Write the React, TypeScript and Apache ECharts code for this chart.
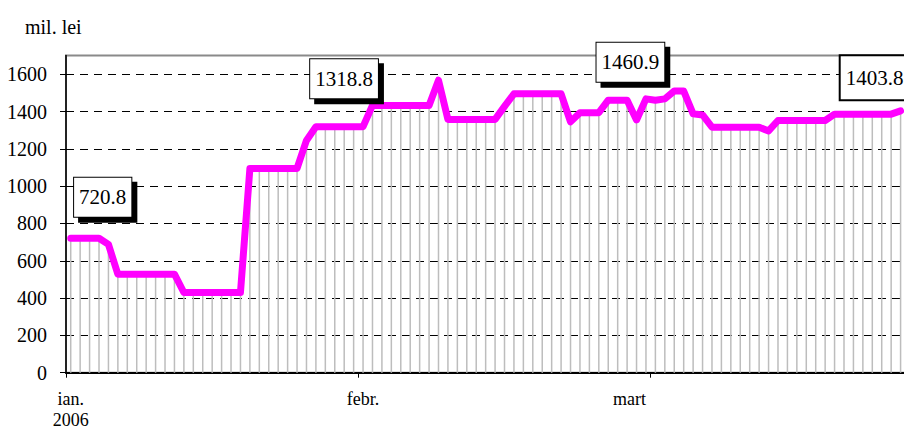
import React, { useEffect, useRef } from 'react';
import * as echarts from 'echarts';

const FONT = 'Liberation Serif';

// one category per plotted observation (31 per month block)
const categories: string[] = Array.from({ length: 89 }, (_, i) => 'p' + (i + 1));
const monthStarts = [0, 31, 62];
const monthLabels = ['ian.\n2006', 'febr.', 'mart'];

const values = [
  720.8, 720.8, 720.8, 720.8, 688,
  528, 528, 528, 528, 528, 528, 528,
  430, 430, 430, 430, 430, 430, 430,
  1095, 1095, 1095, 1095, 1095, 1095,
  1245,
  1318, 1318, 1318, 1318, 1318, 1318.8,
  1433, 1433, 1433, 1433, 1433, 1433, 1433,
  1568,
  1358, 1358, 1358, 1358, 1358, 1358,
  1428,
  1495, 1495, 1495, 1495, 1495, 1495,
  1345,
  1394, 1394, 1394,
  1461, 1461, 1461,
  1355,
  1468, 1460.9, 1468,
  1510, 1510,
  1388, 1382,
  1316, 1316, 1316, 1316, 1316, 1316,
  1296,
  1352, 1352, 1352, 1352, 1352, 1352,
  1386, 1386, 1386, 1386, 1386, 1386, 1386,
  1403.8,
];

const yTicks = [0, 200, 400, 600, 800, 1000, 1200, 1400, 1600];
const labelledPoints = [0, 31, 62, 88];

// label box placement (style only)
const labelOffsets: Record<number, [number, number]> = {
  0: [32, -21],
  31: [-19, -28],
  62: [-25, -18],
  88: [-26, -11],
};

export default function App() {
  const ref = useRef<HTMLDivElement>(null);
  useEffect(() => {
    if (!ref.current) return;
    const chart = echarts.init(ref.current, undefined, { renderer: 'svg' });
    const lineData = values.map((v, i) => {
      if (!labelledPoints.includes(i)) return v;
      const last = i === 88;
      return {
        value: v,
        label: {
          show: true,
          position: 'top',
          distance: 0,
          offset: labelOffsets[i],
          formatter: '{c}',
          fontFamily: FONT,
          fontSize: 21,
          color: '#000',
          backgroundColor: '#fff',
          borderColor: '#000',
          borderWidth: last ? 2 : 1,
          padding: last ? [11, 5, 11, 5] : [9, 5, 9, 5],
          shadowColor: last ? 'transparent' : '#000',
          shadowOffsetX: last ? 0 : 5,
          shadowOffsetY: last ? 0 : 5,
          shadowBlur: 0,
        },
      };
    });
    const option: any = {
      animation: false,
      textStyle: { fontFamily: FONT },
      title: {
        text: 'mil. lei',
        left: 20,
        top: 12,
        textStyle: { fontFamily: FONT, fontSize: 20, fontWeight: 'normal', color: '#000' },
      },
      grid: {
        left: 66,
        top: 55.6,
        width: 839.3,
        height: 317.1,
        outerBoundsMode: 'none',
        containLabel: false,
        show: true,
        borderColor: '#8a8a8a',
        borderWidth: 2,
        backgroundColor: 'transparent',
      },
      xAxis: {
        type: 'category',
        data: categories,
        boundaryGap: true,
        axisLine: { show: true, lineStyle: { color: '#000', width: 2 } },
        axisTick: {
          show: true,
          alignWithLabel: false,
          interval: (i: number) => monthStarts.includes(i),
          length: 5,
          lineStyle: { color: '#000', width: 1 },
        },
        axisLabel: {
          interval: (i: number) => monthStarts.includes(i),
          formatter: (_v: string, i: number) => {
            const k = monthStarts.indexOf(i);
            if (k < 0) return '';
            if (k === 2) return '{m|' + monthLabels[k] + '}';
            return monthLabels[k];
          },
          margin: 16,
          fontFamily: FONT,
          fontSize: 18,
          lineHeight: 21,
          color: '#000',
          rich: {
            m: { fontFamily: FONT, fontSize: 18, lineHeight: 21, color: '#000', padding: [0, 52, 0, 0] },
          },
        },
        splitLine: { show: false },
      },
      yAxis: {
        type: 'value',
        min: 0,
        max: 1700,
        interval: 200,
        axisLine: { show: true, lineStyle: { color: '#000', width: 1.5 } },
        axisTick: { show: true, length: 6, customValues: yTicks, lineStyle: { color: '#000', width: 1 } },
        axisLabel: {
          customValues: yTicks,
          formatter: (v: number) => String(v),
          margin: 19,
          fontFamily: FONT,
          fontSize: 20,
          color: '#000',
        },
        splitLine: {
          show: true,
          lineStyle: {
            color: ['#000', '#000', '#000', '#000', '#000', '#000', '#000', '#000', '#000', 'transparent'],
            type: [8, 6],
            width: 1,
          },
        },
      },
      series: [
        {
          type: 'bar',
          data: values,
          barWidth: 1.5,
          silent: true,
          itemStyle: { color: '#bdbdbd' },
          z: 1,
        },
        {
          type: 'line',
          data: lineData,
          symbol: 'circle',
          symbolSize: 1,
          showSymbol: true,
          itemStyle: { color: '#ff00ff' },
          lineStyle: { color: '#ff00ff', width: 7, cap: 'round', join: 'round' },
          z: 3,
        },
      ],
    };
    chart.setOption(option);
    return () => chart.dispose();
  }, []);
  return (
    <div
      style={{
        position: 'fixed',
        left: 0,
        top: 0,
        width: 904,
        height: 431,
        overflow: 'hidden',
        background: '#fff',
      }}
    >
      <div ref={ref} style={{ width: 940, height: 431 }} />
    </div>
  );
}
